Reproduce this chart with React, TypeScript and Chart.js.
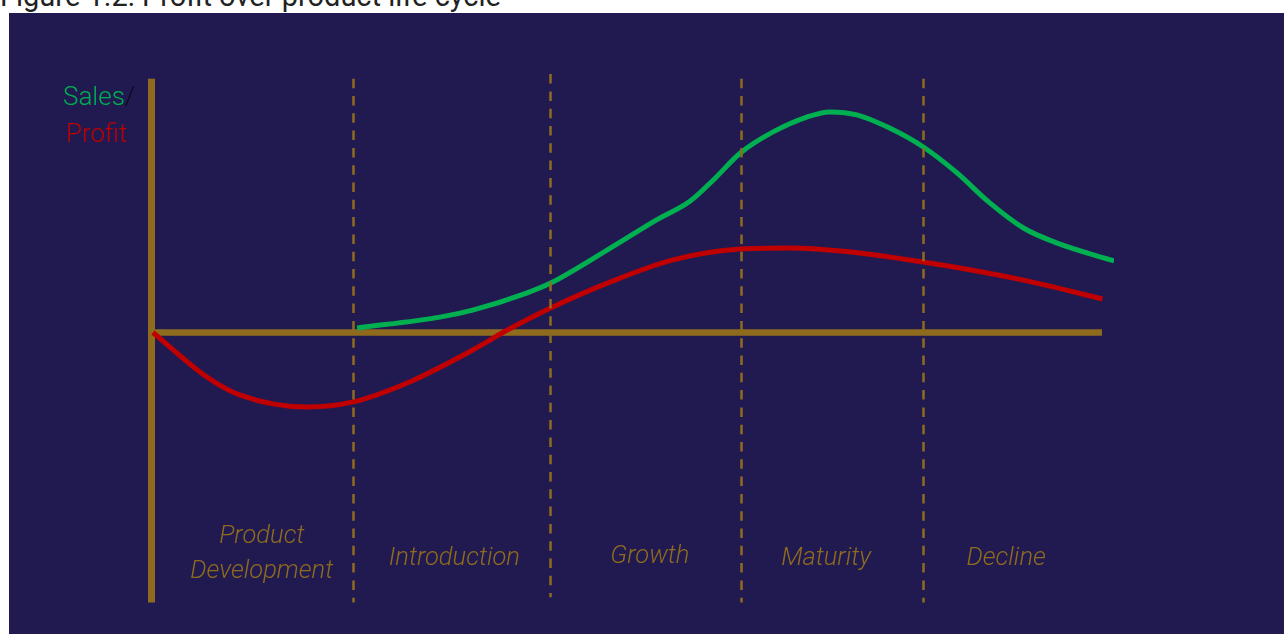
import React, { useEffect, useRef } from "react";
import { Chart, registerables } from "chart.js";

Chart.register(...registerables);

// ---- Data (time in % of product life, value in relative units) ----
const salesTime = [21.4, 30.0, 33.4, 39.0, 41.5, 47.4, 52.5, 56.0, 58.4, 61.2, 64.6, 68.1, 70.5, 73.3, 76.7, 80.2, 83.7, 87.1, 90.6, 94.1, 100];
const salesValue = [1.7, 5.7, 8.3, 14.6, 18.3, 30.6, 41.7, 48.7, 56.5, 66.5, 74.3, 79.8, 81.7, 80.6, 75.7, 68.7, 59.1, 48.0, 38.7, 33.1, 26.5];

const profitTime = [0.2, 5.8, 9.2, 16.2, 21.0, 26.6, 33.4, 37.0, 41.5, 47.4, 54.2, 61.2, 66.4, 71.6, 80.2, 90.6, 98.8];
const profitValue = [0, -16.5, -23.1, -27.6, -25.7, -18.7, -6.5, 0.9, 9.1, 18.3, 26.9, 30.9, 31.3, 30.2, 26.1, 19.4, 12.4];

const phaseLabels = [["Product", "Development"], ["Introduction"], ["Growth"], ["Maturity"], ["Decline"]];
const phaseLabelTime = [11.5, 31.5, 51.8, 70.1, 88.8];
const phaseLabelValue = [-84.5, -86.1, -85.4, -86.1, -86.1];
const phaseBoundaries = [21.0, 41.4, 61.3, 80.2];
const boundaryTop = [94, 95.7, 94, 94];
const boundaryBottom = [-100, -98.1, -100, -100];
const axisEndTime = 98.75;
const axisTopValue = 94;

const NAVY = "#211a51";
const GOLD = "#8f6b1e";
const GREEN = "#00b050";
const RED = "#c00000";

const lifecyclePlugin = {
  id: "lifecycle",
  beforeDatasetsDraw(chart: any) {
    const { ctx, scales } = chart;
    const x = scales.x;
    const y = scales.y;
    ctx.save();
    ctx.strokeStyle = GOLD;
    ctx.lineCap = "butt";
    // vertical axis
    ctx.lineWidth = 7;
    const x0 = x.getPixelForValue(0) + 0.5;
    ctx.beginPath();
    ctx.moveTo(x0, y.getPixelForValue(axisTopValue));
    ctx.lineTo(x0, y.getPixelForValue(-100));
    ctx.stroke();
    // horizontal axis
    ctx.lineWidth = 6.5;
    ctx.beginPath();
    ctx.moveTo(x0, y.getPixelForValue(0));
    ctx.lineTo(x.getPixelForValue(axisEndTime), y.getPixelForValue(0));
    ctx.stroke();
    ctx.restore();
  },
  afterDatasetsDraw(chart: any) {
    const { ctx, scales } = chart;
    const x = scales.x;
    const y = scales.y;
    ctx.save();
    // dashed phase boundaries
    ctx.strokeStyle = GOLD;
    ctx.lineWidth = 2.5;
    ctx.setLineDash([9.5, 7.8]);
    phaseBoundaries.forEach((t, i) => {
      const px = Math.round(x.getPixelForValue(t)) + 0.5;
      ctx.beginPath();
      ctx.moveTo(px, y.getPixelForValue(boundaryTop[i]));
      ctx.lineTo(px, y.getPixelForValue(boundaryBottom[i]));
      ctx.stroke();
    });
    ctx.setLineDash([]);
    // phase labels
    ctx.fillStyle = GOLD;
    ctx.font = "italic 300 25.5px Roboto";
    ctx.textAlign = "center";
    ctx.textBaseline = "alphabetic";
    phaseLabels.forEach((lines, i) => {
      const cx = x.getPixelForValue(phaseLabelTime[i]);
      const cy = y.getPixelForValue(phaseLabelValue[i]);
      const lh = 35;
      lines.forEach((line, j) => {
        const by = cy + (j - (lines.length - 1) / 2) * lh;
        ctx.fillText(line, cx, by);
      });
    });
    // axis title "Sales/ Profit"
    ctx.font = "300 26px Roboto";
    ctx.textAlign = "left";
    const origin = x.getPixelForValue(0);
    const y1 = y.getPixelForValue(84.3);
    const y2 = y.getPixelForValue(70.7);
    const salesLeft = origin - 88;
    const salesW = ctx.measureText("Sales").width;
    ctx.fillStyle = GREEN;
    ctx.fillText("Sales", salesLeft, y1);
    ctx.fillStyle = "#0a0a1e";
    ctx.fillText("/", salesLeft + salesW, y1);
    ctx.fillStyle = RED;
    ctx.fillText("Profit", origin - 85, y2);
    ctx.restore();
  },
};

export default function App() {
  const canvasRef = useRef<HTMLCanvasElement | null>(null);

  useEffect(() => {
    const canvas = canvasRef.current;
    if (!canvas) return;
    const chart = new Chart(canvas, {
      type: "line",
      data: {
        datasets: [
          {
            label: "Sales",
            data: salesTime.map((t, i) => ({ x: t, y: salesValue[i] })),
            borderColor: GREEN,
            borderWidth: 5,
            pointRadius: 0,
            cubicInterpolationMode: "monotone",
            fill: false,
            order: 1,
          },
          {
            label: "Profit",
            data: profitTime.map((t, i) => ({ x: t, y: profitValue[i] })),
            borderColor: RED,
            borderWidth: 5,
            pointRadius: 0,
            cubicInterpolationMode: "monotone",
            fill: false,
            order: 2,
          },
        ],
      },
      options: {
        responsive: false,
        animation: false,
        devicePixelRatio: 1,
        layout: { padding: { left: 142, right: 170, top: 49.5, bottom: 31.5 } },
        scales: {
          x: { type: "linear", min: 0, max: 100, display: false },
          y: { type: "linear", min: -100, max: 100, display: false },
        },
        plugins: {
          legend: { display: false },
          tooltip: { enabled: false },
          title: { display: false },
        },
        events: [],
      } as any,
      plugins: [lifecyclePlugin],
    });
    return () => chart.destroy();
  }, []);

  return (
    <div style={{ position: "absolute", left: 0, top: 0, width: 1284, height: 634, overflow: "hidden", background: "#ffffff" }}>
      <div
        style={{
          position: "absolute",
          left: 0,
          top: -18,
          font: "29px Roboto, 'Noto Sans', sans-serif",
          lineHeight: "29px",
          color: "#222222",
          whiteSpace: "nowrap",
        }}
      >
        Figure 1.2: Profit over product life cycle
      </div>
      <div style={{ position: "absolute", left: 9, top: 13, width: 1275, height: 621, background: NAVY }}>
        <canvas ref={canvasRef} width={1275} height={621} style={{ display: "block", width: 1275, height: 621 }} />
      </div>
    </div>
  );
}
